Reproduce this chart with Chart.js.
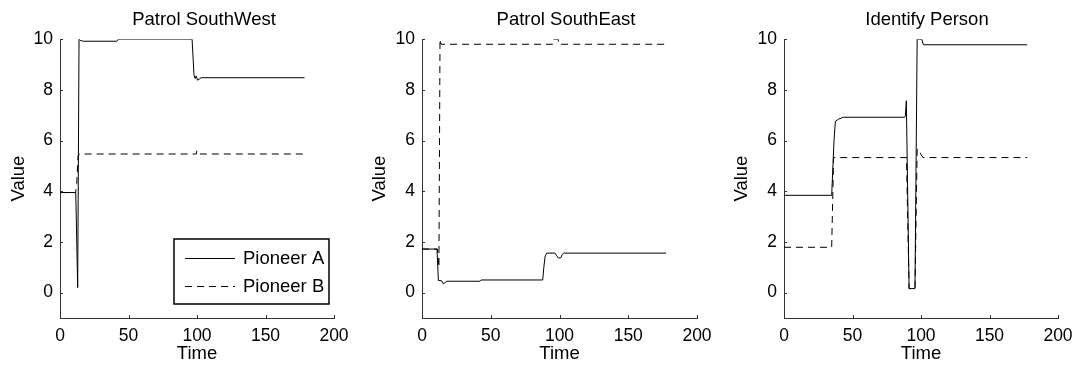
<!DOCTYPE html>
<html>
<head>
<meta charset="utf-8">
<script src="https://cdn.jsdelivr.net/npm/chart.js@4.4.1/dist/chart.umd.min.js"></script>
<style>
html, body { margin: 0; padding: 0; background: #fff; overflow: hidden; width: 1080px; height: 365px; }
canvas { position: absolute; top: 0; }
</style>
</head>
<body>
<canvas id="sw" width="408" height="365" style="left:0px"></canvas>
<canvas id="se" width="412" height="365" style="left:360px"></canvas>
<canvas id="ip" width="414" height="365" style="left:720px"></canvas>
<script>
// axis ticks
const xTicks = [0, 50, 100, 150, 200];
const yTicks = [0, 2, 4, 6, 8, 10];
const seriesNames = ['Pioneer A', 'Pioneer B'];

// Patrol SouthWest
const swTimeA = [0, 11.5, 12.9, 13.9, 14.8, 17, 41.4, 42.6, 96.4, 97.8, 98.6, 99.4, 100.4, 101.5, 103, 178.5];
const swValA  = [3.95, 3.95, 0.2, 10.0, 9.95, 9.92, 9.92, 10.0, 10.0, 8.6, 8.45, 8.55, 8.38, 8.42, 8.48, 8.48];
const swTimeB = [0, 11.4, 12.2, 13.2, 14, 99.5, 99.9, 101, 101.8, 178.5];
const swValB  = [3.95, 3.95, 4.3, 5.4, 5.47, 5.47, 5.6, 5.58, 5.47, 5.47];

// Patrol SouthEast
const seTimeA = [0, 10.9, 11.9, 14.3, 15.5, 18, 42.2, 43, 87.8, 88.6, 89.6, 90.7, 96.7, 98, 99.1, 100.8, 102, 103, 177.5];
const seValA  = [1.72, 1.72, 0.48, 0.47, 0.35, 0.45, 0.45, 0.5, 0.5, 1.0, 1.45, 1.56, 1.56, 1.45, 1.37, 1.37, 1.5, 1.56, 1.56];
const seTimeB = [0, 11.2, 12.3, 13.1, 13.8, 95, 95.5, 99, 99.5, 177.5];
const seValB  = [1.72, 1.72, 1.0, 10.0, 9.8, 9.8, 10.0, 10.0, 9.8, 9.8];

// Identify Person
const ipTimeA = [0, 34.8, 36.5, 37.5, 40, 43.3, 88, 88.6, 89.3, 91.3, 95.6, 97.2, 100.5, 101.8, 177.5];
const ipValA  = [3.84, 3.84, 6.0, 6.76, 6.85, 6.92, 6.92, 6.98, 7.57, 0.16, 0.16, 10.0, 10.0, 9.78, 9.78];
const ipTimeB = [0, 34.8, 36.2, 89.4, 91.3, 95.6, 97.2, 98.5, 100, 101.5, 177.5];
const ipValB  = [1.79, 1.79, 5.33, 5.33, 0.16, 0.16, 5.65, 5.66, 5.45, 5.33, 5.33];

const fontFamily = '"Liberation Sans", Arial, Helvetica, sans-serif';
const axisColor = '#333';
Chart.defaults.font.family = fontFamily;
Chart.defaults.color = '#000';

// tick marks drawn inward, like matlab
const innerTicks = {
  id: 'innerTicks',
  afterDraw(chart) {
    const { ctx, chartArea: a, scales } = chart;
    ctx.save();
    ctx.strokeStyle = axisColor;
    ctx.lineWidth = 1;
    ctx.beginPath();
    xTicks.forEach(v => {
      const px = Math.round(scales.x.getPixelForValue(v)) + 0.5;
      ctx.moveTo(px, a.bottom);
      ctx.lineTo(px, a.bottom - 3);
    });
    yTicks.forEach(v => {
      const py = Math.round(scales.y.getPixelForValue(v)) + 0.5;
      ctx.moveTo(a.left, py);
      ctx.lineTo(a.left + 3, py);
    });
    ctx.stroke();
    ctx.restore();
  }
};

// boxed legend inside the plot, lower right
const boxLegend = {
  id: 'boxLegend',
  afterDraw(chart, args, opts) {
    if (!opts.show) return;
    const { ctx, chartArea: a } = chart;
    const w = 155, h = 65;
    const x0 = a.right - 5 - w, y0 = a.bottom - 14 - h;
    ctx.save();
    ctx.fillStyle = '#fff';
    ctx.fillRect(x0, y0, w, h);
    ctx.strokeStyle = '#000';
    ctx.lineWidth = 1.5;
    ctx.strokeRect(x0, y0, w, h);
    ctx.font = '18.5px ' + fontFamily;
    ctx.textBaseline = 'middle';
    chart.data.datasets.forEach((ds, i) => {
      const y = Math.round(y0 + 19 + i * 28) + 0.5;
      ctx.setLineDash(ds.borderDash || []);
      ctx.lineWidth = ds.borderWidth;
      ctx.strokeStyle = ds.borderColor;
      ctx.beginPath();
      ctx.moveTo(x0 + 11, y);
      ctx.lineTo(x0 + 61, y);
      ctx.stroke();
      ctx.setLineDash([]);
      ctx.fillStyle = '#000';
      ctx.fillText(ds.label, x0 + 69, y);
    });
    ctx.restore();
  }
};

function toPoints(times, vals) {
  return times.map((t, i) => ({ x: t, y: vals[i] }));
}

function makePanel(id, title, tA, vA, tB, vB, lay) {
  return new Chart(document.getElementById(id), {
    type: 'line',
    data: {
      datasets: [
        { label: seriesNames[0], data: toPoints(tA, vA), borderColor: '#000', borderWidth: 1,
          pointRadius: 0, tension: 0, yAxisID: 'y' },
        { label: seriesNames[1], data: toPoints(tB, vB), borderColor: '#000', borderWidth: 1,
          borderDash: [7, 5], pointRadius: 0, tension: 0, yAxisID: 'y' }
      ]
    },
    options: {
      responsive: false,
      animation: false,
      devicePixelRatio: 1,
      layout: { padding: 0 },
      plugins: {
        legend: { display: false },
        tooltip: { enabled: false },
        title: { display: true, text: title, color: '#000', font: { size: 18.5, weight: 'normal' },
                 padding: { top: 9, bottom: 8 } },
        boxLegend: { show: lay.legend }
      },
      scales: {
        x: {
          type: 'linear', min: 0, max: 200,
          afterBuildTicks: s => { s.ticks = xTicks.map(v => ({ value: v })); },
          afterFit: s => { s.height = 47; },
          grid: { display: true, drawOnChartArea: false, drawTicks: false },
          border: { display: true, color: axisColor, width: 1 },
          ticks: { font: { size: 17.5 }, padding: 8, maxRotation: 0 },
          title: { display: true, text: 'Time', font: { size: 18.5 }, padding: { top: 0, bottom: 0 } }
        },
        y: {
          type: 'linear', min: -1, max: 10,
          afterBuildTicks: s => { s.ticks = yTicks.map(v => ({ value: v })); },
          afterFit: s => { s.width = lay.yW; },
          grid: { display: true, drawOnChartArea: false, drawTicks: false },
          border: { display: true, color: axisColor, width: 1 },
          ticks: { font: { size: 17.5 }, padding: 7 },
          title: { display: true, text: 'Value', font: { size: 18.5 }, padding: { top: lay.yTitlePad, bottom: 0 } }
        },
        // empty right band so the title sits where matlab puts it
        pad: {
          type: 'linear', position: 'right',
          afterFit: s => { s.width = lay.K; },
          grid: { display: false }, border: { display: false }, ticks: { display: false }
        }
      }
    },
    plugins: [innerTicks, boxLegend]
  });
}

makePanel('sw', 'Patrol SouthWest', swTimeA, swValA, swTimeB, swValB, { yW: 60, K: 74, yTitlePad: 7.4, legend: true });
makePanel('se', 'Patrol SouthEast', seTimeA, seValA, seTimeB, seValB, { yW: 62, K: 75, yTitlePad: 8.9, legend: false });
makePanel('ip', 'Identify Person', ipTimeA, ipValA, ipTimeB, ipValB, { yW: 64, K: 76, yTitlePad: 10.4, legend: false });
</script>
</body>
</html>
